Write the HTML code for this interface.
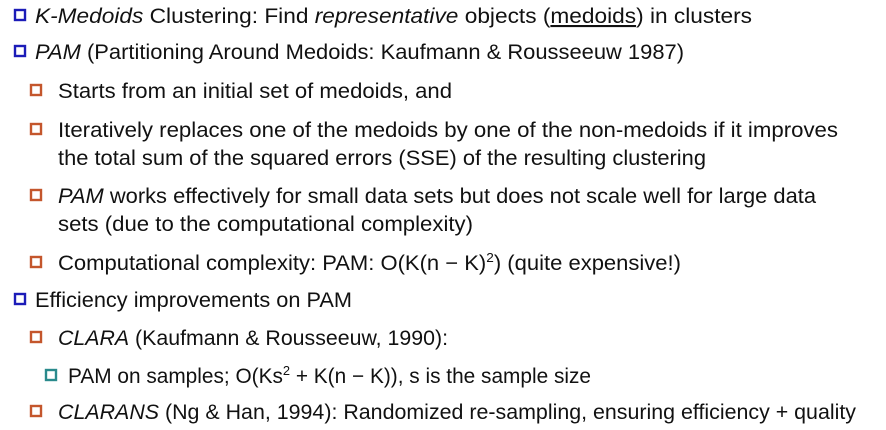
<!DOCTYPE html>
<html><head><meta charset="utf-8"><style>
html,body{margin:0;padding:0;background:#fff;width:886px;height:430px;overflow:hidden}
text{font-family:"Liberation Sans",sans-serif;font-size:21px;fill:#111}
</style></head><body>
<svg width="886" height="430">
<g><rect x="15" y="10" width="10" height="10" fill="none" stroke="#1c1cb8" stroke-width="2.4"/></g>
<text x="35" y="23" textLength="717" lengthAdjust="spacingAndGlyphs"><tspan font-style="italic">K-Medoids</tspan> Clustering: Find <tspan font-style="italic">representative</tspan> objects (<tspan text-decoration="underline">medoids</tspan>) in clusters</text>

<g><rect x="15" y="46" width="10" height="10" fill="none" stroke="#1c1cb8" stroke-width="2.4"/></g>
<text x="35" y="59" textLength="649" lengthAdjust="spacingAndGlyphs"><tspan font-style="italic">PAM</tspan> (Partitioning Around Medoids: Kaufmann &amp; Rousseeuw 1987)</text>

<g><rect x="31" y="85" width="10" height="10" fill="none" stroke="#c4562c" stroke-width="2.4"/></g>
<text x="58" y="98" textLength="394" lengthAdjust="spacingAndGlyphs">Starts from an initial set of medoids, and</text>

<g><rect x="31" y="124" width="10" height="10" fill="none" stroke="#c4562c" stroke-width="2.4"/></g>
<text x="58" y="137" textLength="780" lengthAdjust="spacingAndGlyphs">Iteratively replaces one of the medoids by one of the non-medoids if it improves</text>
<text x="58" y="165" textLength="648" lengthAdjust="spacingAndGlyphs">the total sum of the squared errors (SSE) of the resulting clustering</text>

<g><rect x="31" y="190" width="10" height="10" fill="none" stroke="#c4562c" stroke-width="2.4"/></g>
<text x="58" y="203" textLength="758" lengthAdjust="spacingAndGlyphs"><tspan font-style="italic">PAM</tspan> works effectively for small data sets but does not scale well for large data</text>
<text x="58" y="231" textLength="415" lengthAdjust="spacingAndGlyphs">sets (due to the computational complexity)</text>

<g><rect x="31" y="257" width="10" height="10" fill="none" stroke="#c4562c" stroke-width="2.4"/></g>
<text x="58" y="270" textLength="623" lengthAdjust="spacingAndGlyphs">Computational complexity: PAM: O(K(n − K)<tspan font-size="13" dy="-8">2</tspan><tspan dy="8">)  (quite expensive!)</tspan></text>

<g><rect x="15" y="294" width="10" height="10" fill="none" stroke="#1c1cb8" stroke-width="2.4"/></g>
<text x="35" y="307" textLength="317" lengthAdjust="spacingAndGlyphs">Efficiency improvements on PAM</text>

<g><rect x="31" y="332" width="10" height="10" fill="none" stroke="#c4562c" stroke-width="2.4"/></g>
<text x="58" y="345" textLength="390" lengthAdjust="spacingAndGlyphs"><tspan font-style="italic">CLARA</tspan> (Kaufmann &amp; Rousseeuw, 1990):</text>

<g><rect x="46" y="370" width="10" height="10" fill="none" stroke="#2a8a8c" stroke-width="2.4"/></g>
<text x="68" y="383" textLength="523" lengthAdjust="spacingAndGlyphs">PAM on samples; O(Ks<tspan font-size="13" dy="-8">2</tspan><tspan dy="8"> + K(n − K)), s is the sample size</tspan></text>

<g><rect x="31" y="406" width="10" height="10" fill="none" stroke="#c4562c" stroke-width="2.4"/></g>
<text x="58" y="419" textLength="798" lengthAdjust="spacingAndGlyphs"><tspan font-style="italic">CLARANS</tspan> (Ng &amp; Han, 1994): Randomized re-sampling, ensuring efficiency + quality</text>
</svg>
</body></html>
